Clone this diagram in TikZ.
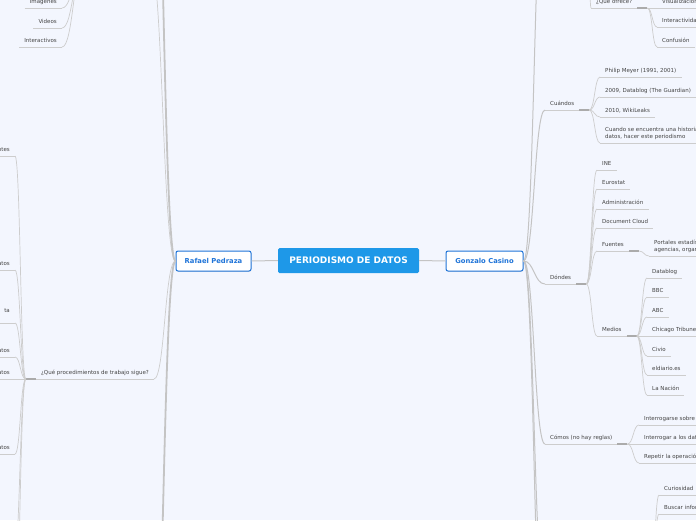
\documentclass[tikz,border=0pt]{standalone}
\usepackage{fontspec}
\setmainfont{DejaVu Sans}
\usetikzlibrary{calc,shadows}
\definecolor{bg}{HTML}{F3F6FE}
\definecolor{ln}{HTML}{CDCDCD}
\definecolor{trunk}{HTML}{C4C4C4}
\definecolor{jn}{HTML}{ABABAB}
\definecolor{txt}{HTML}{444444}
\definecolor{cblue}{HTML}{1E98E8}
\definecolor{bblue}{HTML}{1F74D8}
\tikzset{
  mm/.style={to path={.. controls ($(\tikztostart)!0.5!(\tikztotarget|-\tikztostart)$) and ($(\tikztotarget)!0.5!(\tikztostart|-\tikztotarget)$) .. (\tikztotarget)}},
  lbl0/.style={font=\fontsize{5.5}{7}\selectfont, text=txt, inner xsep=5pt, inner ysep=3pt},
  lbl/.style={lbl0, text depth=1.5pt},
  rl/.style={lbl, anchor=south west},
  rl2/.style={lbl0, anchor=south west, align=left},
  ll/.style={lbl, anchor=south east},
  ll2/.style={lbl0, anchor=south east, align=right},
  uline/.style={draw=ln, line width=0.7pt},
  junc/.style={draw=jn, line width=1.4pt},
  conn/.style={draw=ln, line width=0.7pt, mm},
  gconn/.style={draw=trunk, line width=1pt, mm},
  tconn/.style={draw=trunk, line width=1.8pt, mm},
  person/.style={draw=bblue, line width=1pt, fill=white, rounded corners=2pt, text=bblue,
    font=\fontsize{6.8}{8}\selectfont\bfseries, minimum height=20pt, inner sep=0pt,
    drop shadow={shadow xshift=0.4pt, shadow yshift=-0.8pt, opacity=0.2}},
  central/.style={fill=cblue, text=white, rounded corners=1.5pt, font=\fontsize{9}{10}\selectfont\bfseries,
    minimum width=141pt, minimum height=25pt, inner sep=0pt},
}
\begin{document}
\begin{tikzpicture}[x=1pt,y=-1pt]
\useasboundingbox (0,0) rectangle (696,520);
\fill[bg] (0,0) rectangle (696,520);
\clip (0,0) rectangle (696,520);

% hidden (off-page) points
\coordinate (tlj) at (85,-40);
\coordinate (hqs) at (545,-130);
\coordinate (hqj) at (587,-130);
\coordinate (hbj) at (650,600);
\coordinate (gd1) at (545,600);
\coordinate (gd2) at (545,680);
\coordinate (ru1) at (150,-40);
\coordinate (ru2) at (150,-300);
\coordinate (rd1) at (150,780);
\coordinate (qd1) at (14,560);
\coordinate (qd2) at (14,640);

% main nodes
\node[central] (c) at (348.5,260.5) {PERIODISMO DE DATOS};
\node[person, minimum width=75pt] (raf) at (213.5,261) {Rafael Pedraza};
\node[person, minimum width=77pt] (gon) at (484.5,261) {Gonzalo Casino};

% right side
\node[rl] (cuandos) at (545,110) {Cuándos};
\node[rl] (dondes) at (545,284) {Dóndes};
\node[rl] (comos) at (545,444) {Cómos (no hay reglas)};
\node[rl] (queof) at (591,8) {¿Qué ofrece?};
\node[rl] (vis) at (657,8) {Visualización};
\node[rl] (inter) at (657,27) {Interactividad};
\node[rl] (conf) at (657,47) {Confusión};
\node[rl] (meyer) at (600,77) {Philip Meyer (1991, 2001)};
\node[rl] (d2009) at (600,97) {2009, Datablog (The Guardian)};
\node[rl] (d2010) at (600,117) {2010, WikiLeaks};
\node[rl2] (cuando) at (600,143) {Cuando se encuentra una historia\\datos, hacer este periodismo};
\node[rl] (ine) at (597,170) {INE};
\node[rl] (eurostat) at (597,189) {Eurostat};
\node[rl] (admin) at (597,209) {Administración};
\node[rl] (dcloud) at (597,228) {Document Cloud};
\node[rl] (fuentes) at (597,251) {Fuentes};
\node[rl] (medios) at (597,336) {Medios};
\node[rl2] (portales) at (649,256) {Portales estadísticos,\\agencias, organismos};
\node[rl] (datablog) at (647,278) {Datablog};
\node[rl] (bbc) at (647,297) {BBC};
\node[rl] (abc) at (647,317) {ABC};
\node[rl] (chicago) at (647,336) {Chicago Tribune};
\node[rl] (civio) at (647,356) {Civio};
\node[rl] (eldiario) at (647,375) {eldiario.es};
\node[rl] (nacion) at (647,395) {La Nación};
\node[rl] (interr1) at (639,425) {Interrogarse sobre};
\node[rl] (interr2) at (639,444) {Interrogar a los datos};
\node[rl] (repetir) at (639,463) {Repetir la operación};
\node[rl] (curios) at (659,495) {Curiosidad};
\node[rl] (buscar) at (659,514) {Buscar información};

% left side
\node[ll] (qp) at (154,379) {¿Qué procedimientos de trabajo sigue?};
\node[ll] (lc1) at (15,156) {ntes};
\node[ll] (lc2) at (15,270) {atos};
\node[ll2] (lc3) at (15,323) {ta\\\mbox{}};
\node[ll] (lc4) at (15,357) {atos};
\node[ll] (lc5) at (15,379) {atos};
\node[ll] (lc6) at (15,454) {atos};
\node[ll] (img) at (62,8) {Imágenes};
\node[ll] (vid) at (62,28) {Videos};
\node[ll] (intv) at (62,47) {Interactivos};

% underlines
\foreach \n in {cuandos,dondes,comos,queof,vis,inter,conf,meyer,d2009,d2010,cuando,ine,eurostat,admin,dcloud,fuentes,medios,portales,datablog,bbc,abc,chicago,civio,eldiario,nacion,interr1,interr2,repetir,curios,buscar,qp,lc1,lc2,lc3,lc4,lc5,lc6,img,vid,intv}
  \draw[uline] (\n.south west) -- (\n.south east);

% junctions
\draw[junc] (cuandos.south east) -- ++(10,0) coordinate (cuandosj);
\draw[junc] (dondes.south east) -- ++(10,0) coordinate (dondesj);
\draw[junc] (comos.south east) -- ++(10,0) coordinate (comosj);
\draw[junc] (queof.south east) -- ++(10,0) coordinate (queofj);
\draw[junc] (fuentes.south east) -- ++(10,0) coordinate (fuentesj);
\draw[junc] (medios.south east) -- ++(10,0) coordinate (mediosj);
\draw[junc] (qp.south west) -- ++(-10,0) coordinate (qpj);

% centre links
\draw[draw=trunk, line width=1pt] (raf.east) -- (c.west);
\draw[draw=trunk, line width=1pt] (c.east) -- (gon.west);

% Rafael branches
\draw[conn] (raf.west) to (ru1);
\draw[tconn] (raf.west) to (ru2);
\draw[tconn] (raf.west) to (rd1);
\draw[conn] (raf.west) to (qp.south east);

% Gonzalo branches
\foreach \t in {cuandos.south west,dondes.south west,comos.south west,hqs,gd1,gd2}
  \draw[gconn] (gon.east) to (\t);

% sub branches
\draw[conn] (hqj) to (queof.south west);
\foreach \t in {vis,inter,conf} \draw[conn] (queofj) to (\t.south west);
\foreach \t in {meyer,d2009,d2010,cuando} \draw[conn] (cuandosj) to (\t.south west);
\foreach \t in {ine,eurostat,admin,dcloud,fuentes,medios} \draw[conn] (dondesj) to (\t.south west);
\draw[conn] (fuentesj) to (portales.south west);
\foreach \t in {datablog,bbc,abc,chicago,civio,eldiario,nacion} \draw[conn] (mediosj) to (\t.south west);
\foreach \t in {interr1,interr2,repetir} \draw[conn] (comosj) to (\t.south west);
\foreach \t in {curios,buscar} \draw[conn] (hbj) to (\t.south west);
\foreach \t in {lc1,lc2,lc3,lc4,lc5,lc6} \draw[conn] (qpj) to (\t.south east);
\foreach \t in {qd1,qd2} \draw[conn] (qpj) to (\t);
\foreach \t in {img,vid,intv} \draw[conn] (tlj) to (\t.south east);
\end{tikzpicture}
\end{document}
